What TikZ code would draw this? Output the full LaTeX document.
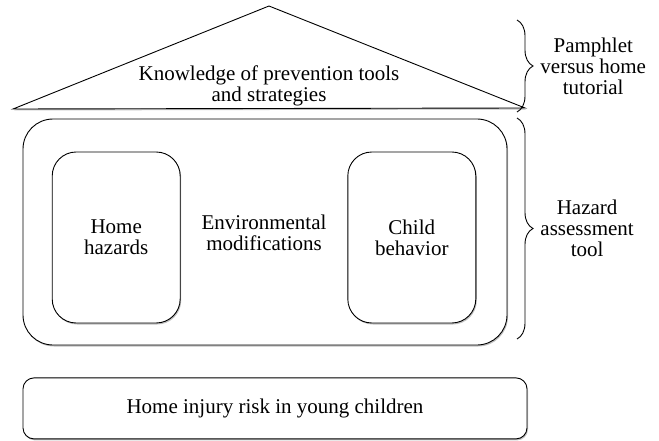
\documentclass[tikz,border=0pt]{standalone}
\usepackage{fontspec}
\setmainfont{Liberation Serif}
\usetikzlibrary{positioning,shapes,shadows,decorations.pathreplacing}
\def\dx{20.5pt}
\def\dy{32pt}
\tikzstyle{shadowed}=[fill=white,drop shadow={shadow xshift=1pt,shadow yshift=-1.5pt,fill=black!50}]
\tikzstyle{frame}=[draw,shadowed,rounded corners=30pt,minimum width=484pt,minimum height=226pt]
\tikzstyle{block}=[draw,shadowed,rounded corners=24pt,minimum width=128pt,minimum height=171pt,align=center]
\tikzstyle{base}=[draw,shadowed,rounded corners=11pt,minimum width=504pt,minimum height=61pt]
\tikzstyle{label}=[align=center,inner sep=0pt]
\tikzstyle{curly}=[decorate,decoration={brace,amplitude=16pt}]
\newcommand{\newBlock}[4]{\node[#3](#1)[#4]{#2};}
\newcommand{\newBrace}[4]{\draw[curly] (#1) -- node[label,right=23pt](#3){#4} (#2);}

\begin{document}
\begin{tikzpicture}[x=1pt,y=-1pt,node distance=\dy and \dx,
      line width=0.9pt,
      font=\fontsize{21}{21}\selectfont
      ]
      \useasboundingbox (0,0) rectangle (659,441);
      % roof
      \coordinate (eaveL) at (13,109);
      \coordinate (ridge) at (269,6);
      \coordinate (eaveR) at (525,108);
      \draw[shadowed] (eaveL) -- (ridge) -- (eaveR) -- cycle;
      \node[label] (knowledge) at (269,86) {Knowledge of prevention tools\\and strategies};
      
      % house with its two rooms
      \node[frame] (house) at (265,232) {};
      \node[label] (env) at (264,233) {Environmental\\modifications};
      \newBlock{hazards}{Home\\hazards}{block}{left=\dx of env,yshift=-4.5pt}
      \newBlock{behavior}{Child\\behavior}{block}{right=\dx of env,yshift=-4.5pt}
      
      \newBlock{risk}{Home injury risk in young children}{base}{below=\dy of house,xshift=10pt}
      
      % braces
      \coordinate (b1top) at (517,20);
      \coordinate (b1bot) at (517,112);
      \coordinate (b2top) at (517,118);
      \coordinate (b2bot) at (517,339);
      \newBrace{b1top}{b1bot}{pamphlet}{Pamphlet\\versus home\\tutorial}
      \newBrace{b2top}{b2bot}{hazard}{Hazard\\assessment\\tool}
    \end{tikzpicture}
\end{document}
